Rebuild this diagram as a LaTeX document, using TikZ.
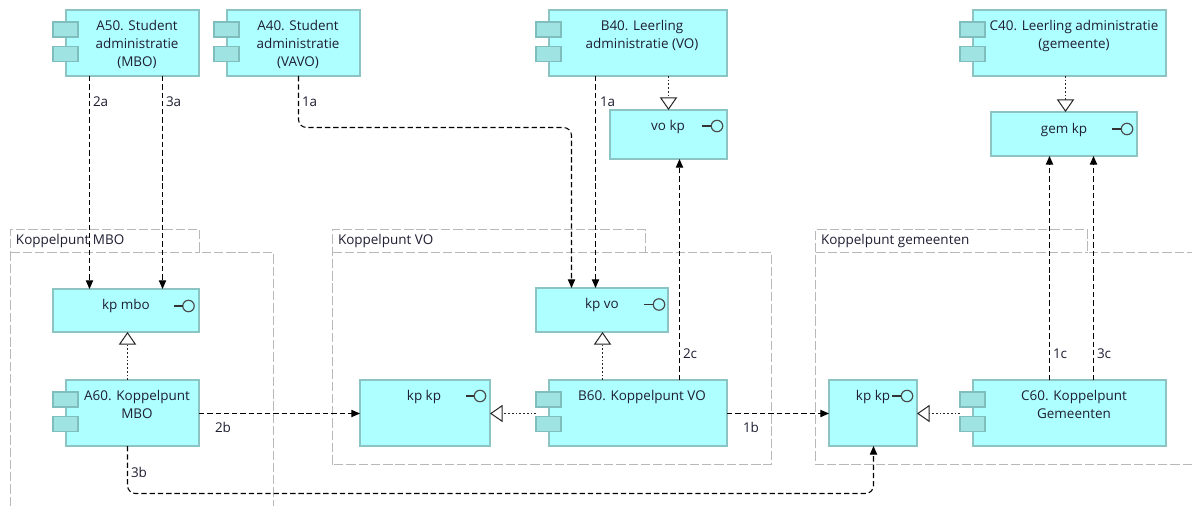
\documentclass[tikz,border=0pt]{standalone}
\usepackage{fontspec}
\setmainfont{Open Sans}
\usetikzlibrary{arrows.meta,calc}
\definecolor{boxfill}{HTML}{AEFFFF}
\definecolor{boxline}{HTML}{8CC4C4}
\definecolor{tabfill}{HTML}{9FE3E3}
\definecolor{tabline}{HTML}{80BEBE}
\definecolor{grpline}{HTML}{B8B8B8}
\definecolor{ink}{HTML}{1E1E32}
\tikzset{
  x=0.75pt,y=-0.75pt,
  boxnode/.style={draw=boxline,fill=boxfill,line width=0.8pt,inner sep=0pt,outer sep=0pt,anchor=north west},
  tabnode/.style={draw=tabline,fill=tabfill,line width=0.8pt,inner sep=0pt,outer sep=0pt,anchor=north west,minimum width=18.75pt,minimum height=11.25pt},
  txt/.style={inner sep=0pt,outer sep=0pt,anchor=north,align=center,text=ink,font=\fontsize{10.1}{13.5}\selectfont},
  conlabel/.style={inner sep=0pt,outer sep=0pt,anchor=west,text=ink,font=\fontsize{10.1}{12}\selectfont},
  grplabel/.style={inner sep=0pt,outer sep=0pt,anchor=west,text=ink,font=\fontsize{10.1}{12}\selectfont},
  flow/.style={draw=black,line width=0.8pt,dash pattern=on 4pt off 2.2pt,rounded corners=6pt,-{Triangle[length=6.5pt,width=5.5pt]}},
  real/.style={draw=black!85,line width=0.75pt,dash pattern=on 1.3pt off 1.5pt,-{Triangle[open,fill=white,length=9.5pt,width=13pt,line width=0.75pt]}},
  grp/.style={draw=grpline,line width=0.75pt,dash pattern=on 7pt off 2.2pt},
  lolly/.style={draw=black!70,line width=0.9pt,fill=none},
}
% #1 name, #2 x1, #3 y1, #4 x2, #5 y2
\newcommand{\plainbox}[5]{%
  \node[boxnode,minimum width={(#4-#2)*0.75pt},minimum height={(#5-#3)*0.75pt}] (#1) at (#2,#3) {};}
\newcommand{\compbox}[5]{%
  \plainbox{#1}{#2}{#3}{#4}{#5}
  \node[tabnode] (#1-tabA) at (#2-13,#3+12) {};
  \node[tabnode] (#1-tabB) at (#2-13,#3+36.5) {};}
% #1 name, #2 cx, #3 cy, #4 line start x
\newcommand{\lollipop}[4]{%
  \node[lolly,circle,minimum size=8.6pt,inner sep=0pt,outer sep=0pt] (#1) at (#2,#3) {};
  \draw[line width=0.8pt,draw=black!80] (#4,#3) -- (#1.west);}
\begin{document}
\begin{tikzpicture}
\useasboundingbox (0,0) rectangle (1192,506);
\fill[white] (0,0) rectangle (1192,506);
% groups
\draw[grp] (10.5,506) -- (10.5,229.5) -- (199.5,229.5) -- (199.5,252.5) -- (273.5,252.5) -- (273.5,506);
\draw[grp] (10.5,252.5) -- (199.5,252.5);
\draw[grp] (332.5,464.5) -- (332.5,229.5) -- (645.5,229.5) -- (645.5,252.5) -- (771.5,252.5) -- (771.5,464.5) -- cycle;
\draw[grp] (332.5,252.5) -- (645.5,252.5);
\draw[grp] (1192,464.5) -- (815.5,464.5) -- (815.5,229.5) -- (1087.5,229.5) -- (1087.5,252.5) -- (1192,252.5);
\draw[grp] (815.5,252.5) -- (1087.5,252.5);
\node[grplabel] (gmbo) at (16,241) {Koppelpunt MBO};
\node[grplabel] (gvo) at (338,241) {Koppelpunt VO};
\node[grplabel] (ggem) at (821,241) {Koppelpunt gemeenten};
% boxes
\compbox{a50}{66}{10}{199}{76}
\compbox{a40}{227}{10}{360}{76}
\compbox{b40}{549}{10}{727}{76}
\compbox{c40}{973}{10}{1166}{76}
\plainbox{vokp}{610}{110}{727}{159}
\plainbox{gemkp}{991}{112}{1137}{156}
\plainbox{kpmbo}{53}{289}{199}{332}
\plainbox{kpvo}{536}{288}{668}{332}
\compbox{a60}{66}{380}{199}{446}
\plainbox{kpkpa}{360}{380}{490}{446}
\compbox{b60}{549}{380}{727}{446}
\plainbox{kpkpb}{829}{380}{917}{446}
\compbox{c60}{973}{380}{1166}{446}
% box texts
\node[txt] (a50t) at (137,20) {A50. Student\\administratie\\(MBO)};
\node[txt] (a40t) at (298,20) {A40. Student\\administratie\\(VAVO)};
\node[txt] (b40t) at (642,20) {B40. Leerling\\administratie (VO)};
\node[txt] (c40t) at (1074,20) {C40. Leerling administratie\\(gemeente)};
\node[txt] (vokpt) at (668,120.5) {vo kp};
\node[txt] (gemkpt) at (1064,123) {gem kp};
\node[txt] (kpmbot) at (126,299) {kp mbo};
\node[txt] (kpvot) at (602,298) {kp vo};
\node[txt] (a60t) at (137,390) {A60. Koppelpunt\\MBO};
\node[txt] (kpkpat) at (424,390) {kp kp};
\node[txt] (b60t) at (642,390) {B60. Koppelpunt VO};
\node[txt] (kpkpbt) at (873,390) {kp kp};
\node[txt] (c60t) at (1074,390) {C60. Koppelpunt\\Gemeenten};
% lollipops
\lollipop{lvo}{717}{126}{702}
\lollipop{lgem}{1127}{129}{1112}
\lollipop{lmbo}{188.5}{306}{174}
\lollipop{lkpvo}{659}{304.5}{644}
\lollipop{lkpa}{480}{396}{466}
\lollipop{lkpb}{907}{396}{892}
% flows
\draw[flow] (89.5,0 |- a50.south) -- (89.5,0 |- kpmbo.north);
\draw[flow] (162.5,0 |- a50.south) -- (162.5,0 |- kpmbo.north);
\draw[flow] (298.5,0 |- a40.south) -- (298.5,127.5) -- (571.5,127.5) -- (571.5,0 |- kpvo.north);
\draw[flow] (595.5,0 |- b40.south) -- (595.5,0 |- kpvo.north);
\draw[flow] (a60.east |- 0,413.5) -- (kpkpa.west |- 0,413.5);
\draw[flow] (b60.east |- 0,413.5) -- (kpkpb.west |- 0,413.5);
\draw[flow] (127.5,0 |- a60.south) -- (127.5,493.5) -- (873.5,493.5) -- (873.5,0 |- kpkpb.south);
\draw[flow] (679.5,0 |- b60.north) -- (679.5,0 |- vokp.south);
\draw[flow] (1049.5,0 |- c60.north) -- (1049.5,0 |- gemkp.south);
\draw[flow] (1093.5,0 |- c60.north) -- (1093.5,0 |- gemkp.south);
% realisations
\draw[real] (668.5,0 |- b40.south) -- (668.5,0 |- vokp.north);
\draw[real] (1065.5,0 |- c40.south) -- (1065.5,0 |- gemkp.north);
\draw[real] (127.5,0 |- a60.north) -- (127.5,0 |- kpmbo.south);
\draw[real] (602.5,0 |- b60.north) -- (602.5,0 |- kpvo.south);
\draw[real] (b60-tabA.west |- 0,413.5) -- (kpkpa.east |- 0,413.5);
\draw[real] (c60-tabA.west |- 0,413.5) -- (kpkpb.east |- 0,413.5);
% labels
\node[conlabel] (l2a) at (93,102) {2a};
\node[conlabel] (l3a) at (166,102) {3a};
\node[conlabel] (l1a) at (302,102) {1a};
\node[conlabel] (l1ab) at (600,102) {1a};
\node[conlabel] (l2b) at (215,427) {2b};
\node[conlabel] (l3b) at (131,472) {3b};
\node[conlabel] (l2c) at (683,354) {2c};
\node[conlabel] (l1b) at (743,427) {1b};
\node[conlabel] (l1c) at (1053,354) {1c};
\node[conlabel] (l3c) at (1097,354) {3c};
\end{tikzpicture}
\end{document}
